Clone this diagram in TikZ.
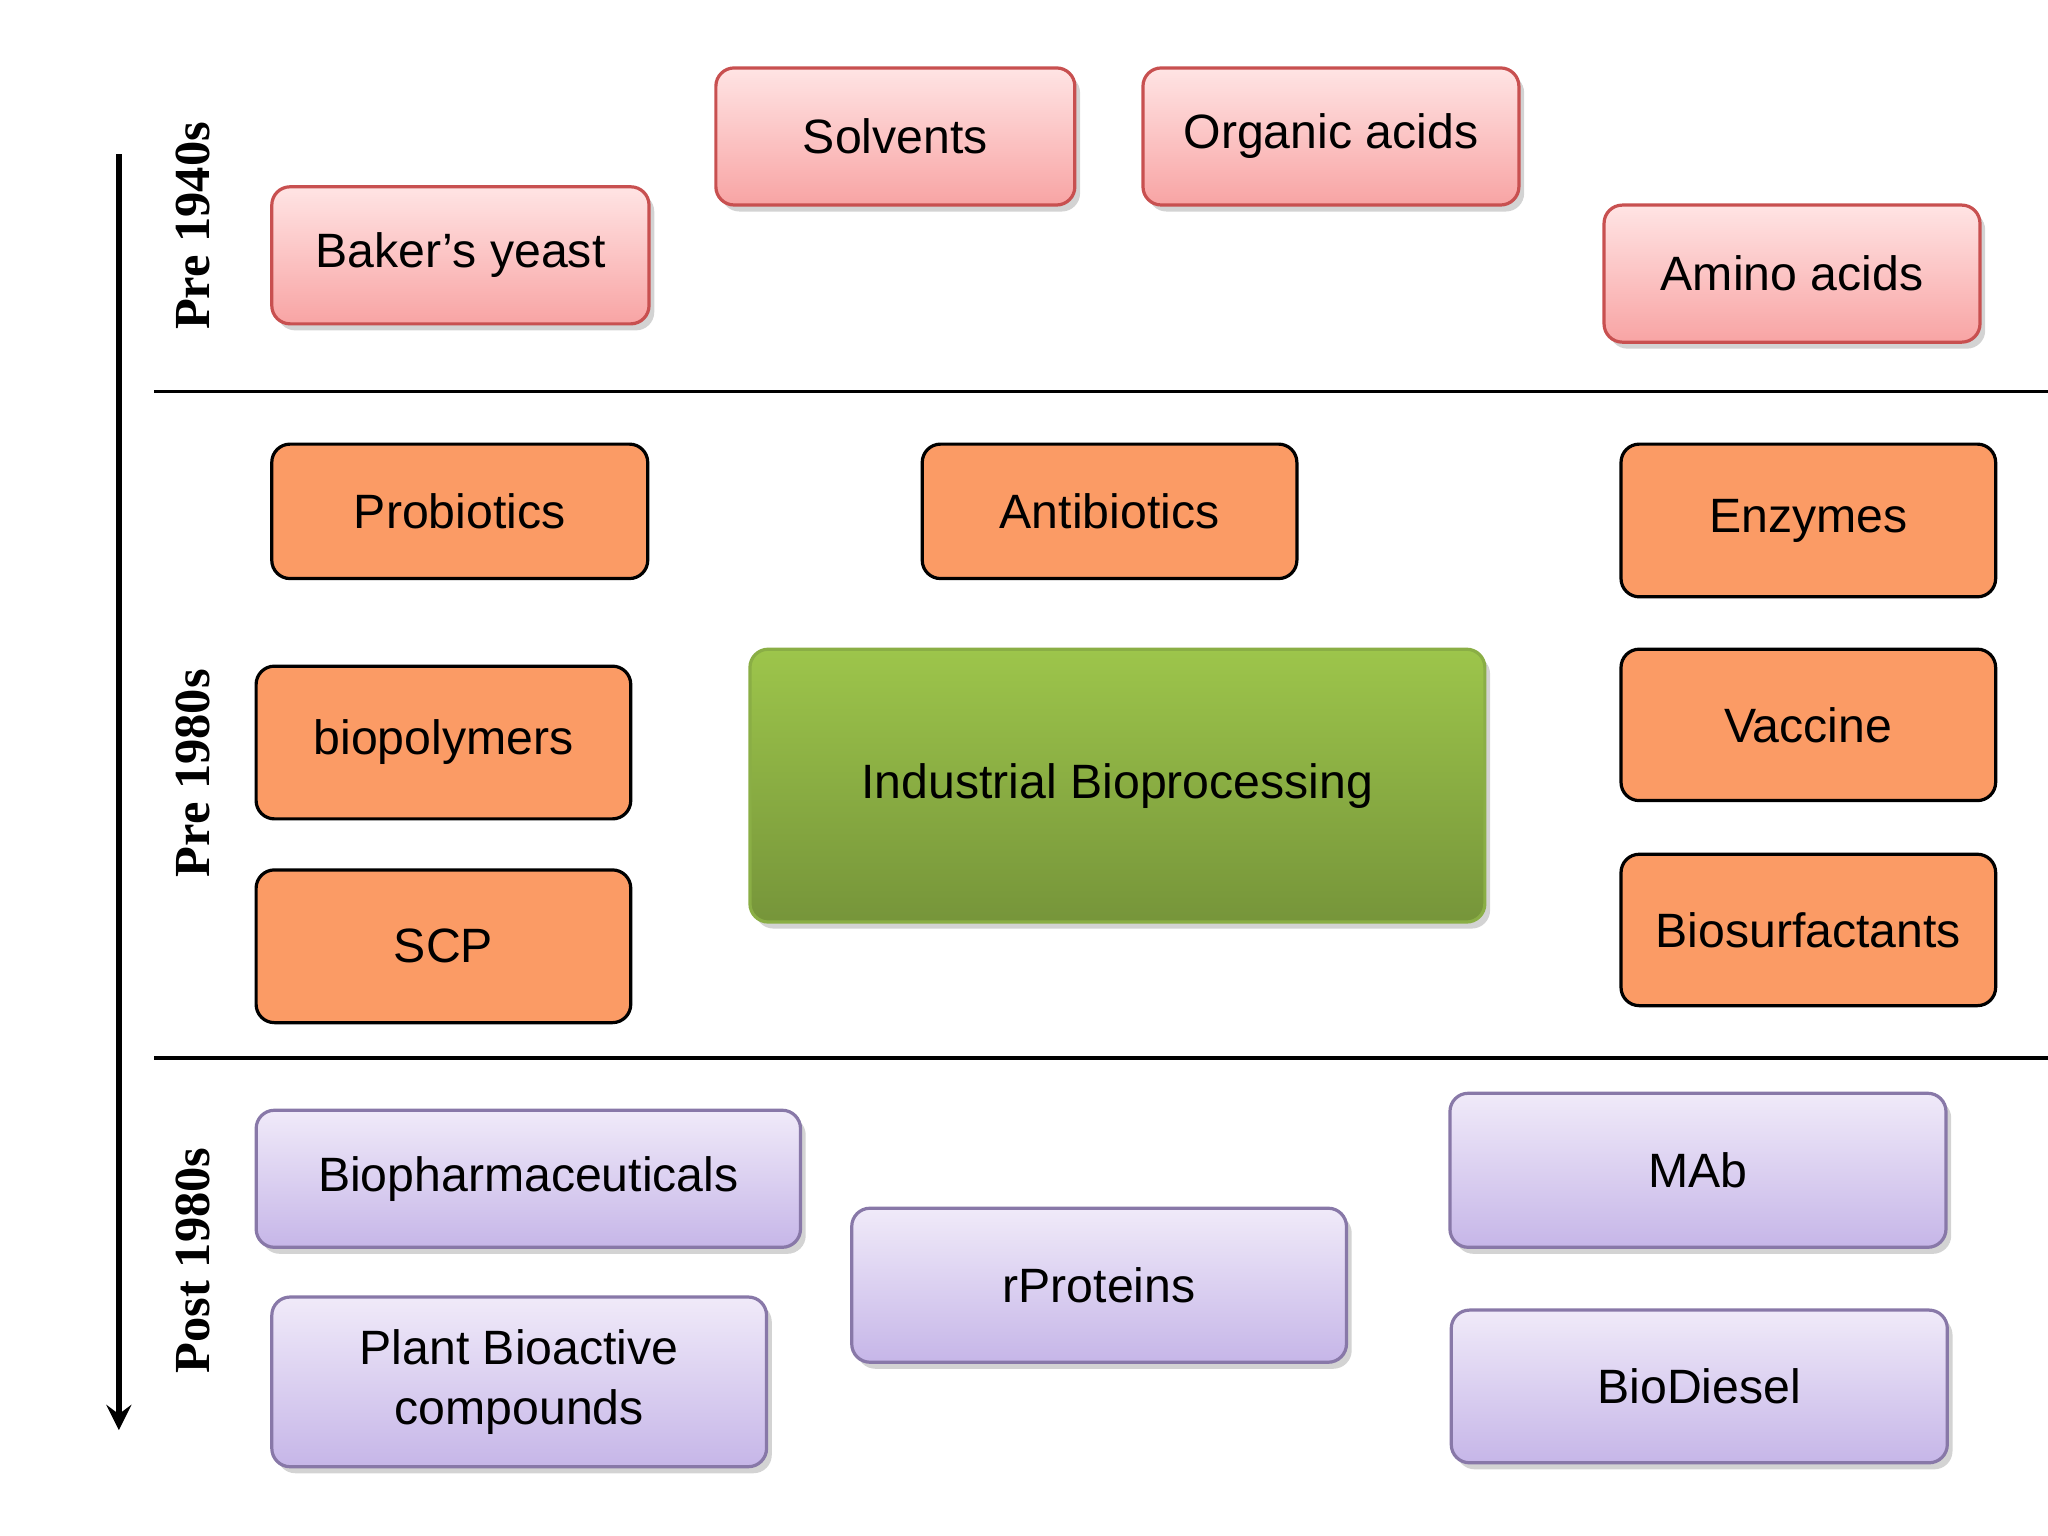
\documentclass[tikz,border=0pt]{standalone}
\usepackage{fontspec}
\setmainfont{Liberation Sans}
\usetikzlibrary{shadows}
\definecolor{pinkT}{HTML}{FFE4E4}\definecolor{pinkB}{HTML}{F8A4A4}\definecolor{pinkD}{HTML}{C85050}
\definecolor{orng}{HTML}{FB9B65}
\definecolor{grnT}{HTML}{9DC54B}\definecolor{grnB}{HTML}{76953A}\definecolor{grnD}{HTML}{8AAE45}
\definecolor{purT}{HTML}{F0EAF9}\definecolor{purB}{HTML}{C6B6E8}\definecolor{purD}{HTML}{8878A8}
\tikzset{
 bx/.style={rounded corners=0.14cm,inner sep=0pt,align=center,font=\fontsize{10.5}{13}\selectfont,line width=0.7pt},
 pk/.style={bx,draw=pinkD,top color=pinkT,bottom color=pinkB,drop shadow={opacity=0.35,shadow xshift=0.04cm,shadow yshift=-0.05cm}},
 og/.style={bx,draw=black,fill=orng},
 gr/.style={bx,draw=grnD,top color=grnT,bottom color=grnB,drop shadow={opacity=0.35,shadow xshift=0.04cm,shadow yshift=-0.05cm}},
 pu/.style={bx,draw=purD,top color=purT,bottom color=purB,drop shadow={opacity=0.35,shadow xshift=0.04cm,shadow yshift=-0.05cm}},
 era/.style={rotate=90,font=\fontspec{Liberation Serif}\bfseries\fontsize{11}{13}\selectfont}
}
\newcommand{\bx}[7]{\node[#2,minimum width={(#5-#3)*0.01cm},minimum height={(#6-#4)*0.01cm}] (#1) at ({(#3+#5)/200},{-(#4+#6)/200}) {#7};}
\begin{document}
\begin{tikzpicture}
\useasboundingbox (0,0) rectangle (15.68,-11.76);
\bx{solv}{pk}{548}{52}{823}{157}{Solvents}
\bx{org}{pk}{875}{52}{1163}{157}{Organic acids}
\bx{bak}{pk}{208}{143}{497}{248}{Baker’s yeast}
\bx{amino}{pk}{1228}{157}{1516}{262}{Amino acids}
\bx{prob}{og}{208}{340}{496}{443}{Probiotics}
\bx{anti}{og}{706}{340}{993}{443}{Antibiotics}
\bx{enz}{og}{1241}{340}{1528}{457}{Enzymes}
\bx{biop}{og}{196}{510}{483}{627}{biopolymers}
\bx{scp}{og}{196}{666}{483}{783}{SCP}
\bx{ind}{gr}{574}{497}{1137}{706}{Industrial Bioprocessing}
\bx{vac}{og}{1241}{497}{1528}{613}{Vaccine}
\bx{bios}{og}{1241}{654}{1528}{770}{Biosurfactants}
\bx{bph}{pu}{196}{850}{613}{955}{Biopharmaceuticals}
\bx{plant}{pu}{208}{993}{587}{1123}{Plant Bioactive\\compounds}
\bx{rp}{pu}{652}{925}{1031}{1043}{rProteins}
\bx{mab}{pu}{1110}{837}{1490}{955}{MAb}
\bx{bd}{pu}{1111}{1003}{1491}{1120}{BioDiesel}
\coordinate (l1a) at (1.18,-3.00); \coordinate (l1b) at (15.68,-3.00);
\coordinate (l2a) at (1.18,-8.10); \coordinate (l2b) at (15.68,-8.10);
\draw[line width=0.7pt] (l1a) -- (l1b);
\draw[line width=0.7pt] (l2a) -- (l2b);
\coordinate (ar1) at (0.91,-1.18); \coordinate (ar2) at (0.91,-10.95);
\draw[line width=1.4pt,-stealth] (ar1) -- (ar2);
\node[era] (e1) at (1.48,-1.73) {Pre 1940s};
\node[era] (e2) at (1.48,-5.92) {Pre 1980s};
\node[era] (e3) at (1.48,-9.65) {Post 1980s};
\end{tikzpicture}
\end{document}
